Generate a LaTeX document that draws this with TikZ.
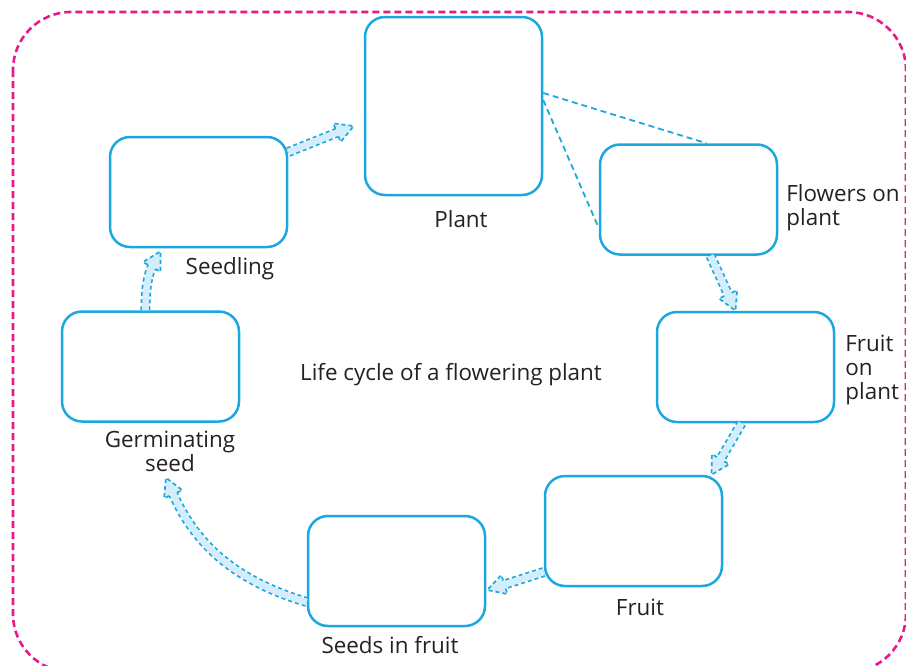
\documentclass[tikz,border=0pt]{standalone}
\usepackage{fontspec}
\setmainfont{Open Sans}
\usetikzlibrary{calc, decorations.markings}
\definecolor{cyanline}{HTML}{1BA8E0}
\definecolor{cyanfill}{HTML}{D3EEFA}
\definecolor{pinkborder}{HTML}{E8198B}
\definecolor{txtgray}{HTML}{222222}

\begin{document}
\begin{tikzpicture}[
  x=0.5pt, y=-0.5pt,
  stagebox/.style={draw=cyanline, line width=1.25pt, rounded corners=10pt,
    minimum width=88.5pt, minimum height=55pt, inner sep=0pt},
  stagelabel/.style={font=\fontsize{11.2}{12}\selectfont, text=txtgray,
    align=center, inner sep=0pt},
  flow/.style={
    preaction={draw=cyanline, line width=5pt, dash pattern=on 2pt off 1.5pt, shorten >=8pt},
    preaction={draw=cyanfill, line width=3.3pt, shorten >=8pt},
    postaction={decorate, decoration={markings, mark=at position 1 with {
      \fill[cyanfill] (-9pt,-5pt) -- (0pt,0pt) -- (-9pt,5pt) -- cycle;
      \draw[cyanline, line width=0.85pt, dash pattern=on 2pt off 1.5pt]
        (-9pt,2.1pt) -- (-9pt,5pt) -- (0pt,0pt) -- (-9pt,-5pt) -- (-9pt,-2.1pt);}}}},
  guide/.style={draw=cyanline, line width=0.9pt, dash pattern=on 3pt off 2pt},
]
\useasboundingbox (0,0) rectangle (906,665);

% Frame
\draw[pinkborder, line width=1.3pt, dash pattern=on 3.5pt off 2pt, rounded corners=29pt]
  (13,12) rectangle (906,672);

% =============================================
% Stages of the cycle
% =============================================
\node[stagebox, minimum height=89pt] (plant) at (453.5,106) {};
\node[stagebox] (flowers) at (688.5,199.5) {};
\node[stagebox] (fruitplant) at (745.5,367) {};
\node[stagebox] (fruit) at (633.5,531) {};
\node[stagebox] (seeds) at (396.5,571) {};
\node[stagebox] (germ) at (150.5,366.5) {};
\node[stagebox] (seedling) at (198.5,192) {};

% Labels
\node[stagelabel] (plantlbl) at (461,219) {Plant};
\node[stagelabel, anchor=west, align=left] (flowerslbl) at (786,208) {Flowers on\\plant};
\node[stagelabel, anchor=west, align=left] (fruitplantlbl) at (845,370) {Fruit\\on\\plant};
\node[stagelabel] (fruitlbl) at (640,607) {Fruit};
\node[stagelabel] (seedslbl) at (390,645) {Seeds in fruit};
\node[stagelabel] (germlbl) at (170,451) {Germinating\\seed};
\node[stagelabel] (seedlinglbl) at (230,269) {Seedling};
\node[stagelabel] (title) at (451,375) {Life cycle of a flowering plant};

% =============================================
% Arrows round the cycle
% =============================================
\coordinate (germtip) at ($(germlbl.south)+(-4,6)$);

\path[flow] ($(seedling.east)+(0,-40)$) -- ($(plant.west)+(-10,20)$);
\path[flow] ($(flowers.south)+(22,0)$) -- ($(fruitplant.north)+(-10,0)$);
\path[flow] ($(fruitplant.south)+(-4,0)$) -- ($(fruit.north)+(78,0)$);
\path[flow] ($(fruit.west)+(0,41)$) -- ($(seeds.east)+(1,19)$);
\path[flow] ($(seeds.west)+(0,31)$) to[bend left=25] (germtip);
\path[flow] ($(germ.north)+(-5,0)$) to[bend left=15] ($(seedling.south)+(-38,3)$);

% Plant to flowers
\draw[guide] ($(plant.east)+(0,-13)$) -- ($(flowers.north)+(18,0)$);
\draw[guide] ($(plant.east)+(0,-6)$) -- ($(flowers.west)+(0,28.5)$);

\end{tikzpicture}
\end{document}
